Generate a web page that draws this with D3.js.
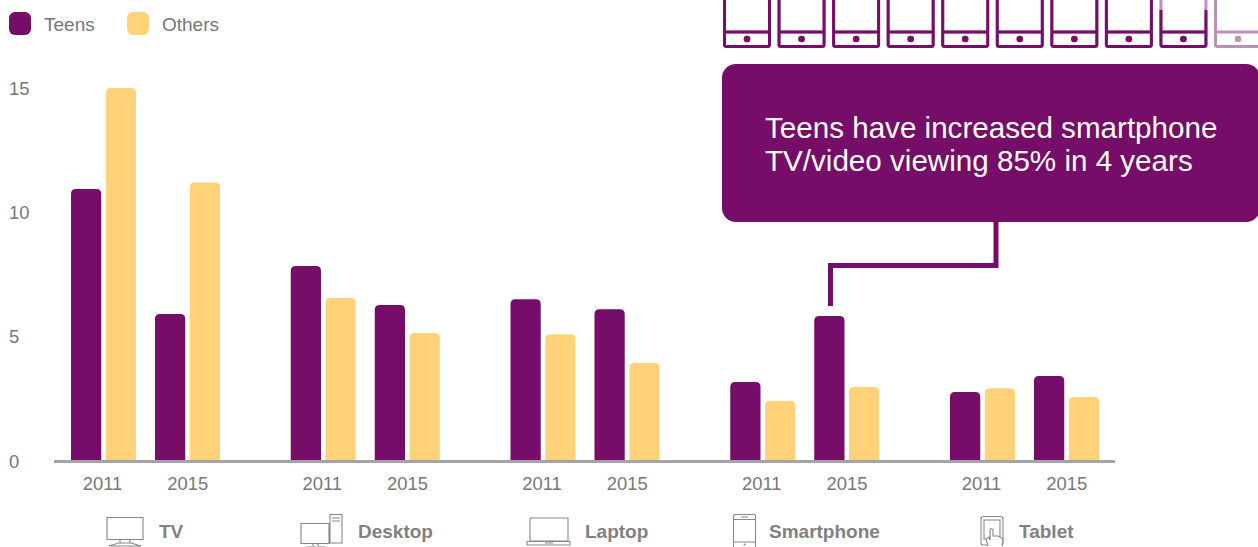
<!DOCTYPE html>
<html><head><meta charset="utf-8">
<script src="https://cdn.jsdelivr.net/npm/d3@7/dist/d3.min.js"></script>
<style>html,body{margin:0;padding:0;background:#fff;overflow:hidden}svg{display:block;font-family:"Liberation Sans",Arial,sans-serif}</style>
</head><body><svg id="c" width="1258" height="547"></svg>
<script>
const categories=["TV","Desktop","Laptop","Smartphone","Tablet"];
const years=["2011","2015"];
const seriesNames=["Teens","Others"];
const teens2011=[10.94,7.84,6.5,3.18,2.77];
const others2011=[15,6.55,5.1,2.41,2.93];
const teens2015=[5.91,6.27,6.1,5.83,3.42];
const others2015=[11.2,5.15,3.94,2.98,2.57];
const yTicks=[0,5,10,15];
const phoneShare=[1,1,1,1,1,1,1,1,0.85,0];
const calloutLines=["Teens have increased smartphone","TV/video viewing 85% in 4 years"];
const purple="#760d68",yellow="#ffd27a",gray="#77777a";
const svg=d3.select("#c");
const y=d3.scaleLinear().domain([0,15]).range([461,88]);
const xCat=d3.scaleBand().domain(categories).range([71,1099]).paddingInner(0.322);
const xYear=d3.scaleBand().domain(years).range([0,xCat.bandwidth()]).paddingInner(0.226);
const xSer=d3.scaleBand().domain(seriesNames).range([0,xYear.bandwidth()]).paddingInner(0.13);
const color=d3.scaleOrdinal().domain(seriesNames).range([purple,yellow]);
const rows=[];
categories.forEach((c,i)=>{
 rows.push({c,yr:"2011",s:"Teens",v:teens2011[i]},{c,yr:"2011",s:"Others",v:others2011[i]},
           {c,yr:"2015",s:"Teens",v:teens2015[i]},{c,yr:"2015",s:"Others",v:others2015[i]});
});
function bar(d){
 const x0=xCat(d.c)+xYear(d.yr)+xSer(d.s),w=xSer.bandwidth(),t=y(d.v),b=y(0),r=5;
 return `M${x0},${b}V${t+r}Q${x0},${t} ${x0+r},${t}H${x0+w-r}Q${x0+w},${t} ${x0+w},${t+r}V${b}Z`;
}
svg.append("g").selectAll("path").data(rows).join("path").attr("d",bar).attr("fill",d=>color(d.s));
svg.append("line").attr("x1",54).attr("x2",1115).attr("y1",y(0)+0.5).attr("y2",y(0)+0.5).attr("stroke","#a3a3a8").attr("stroke-width",3);
svg.append("g").selectAll("text").data(yTicks).join("text").attr("x",9).attr("y",d=>y(d)+6.5+(d===0?0.5:0))
 .attr("font-size",18.4).attr("fill",gray).text(d=>d);
const yrLab=[];categories.forEach(c=>years.forEach(yr=>yrLab.push({c,yr})));
svg.append("g").selectAll("text").data(yrLab).join("text")
 .attr("x",d=>xCat(d.c)+xYear(d.yr)+xYear.bandwidth()/2-(d.yr==="2011"?1:-0.3)).attr("y",490).attr("text-anchor","middle")
 .attr("font-size",18.4).attr("fill",gray).text(d=>d.yr);
const catLabelX=d3.scaleOrdinal().domain(categories).range([159,358,585,769,1019]);
svg.append("g").selectAll("text").data(categories).join("text")
 .attr("x",d=>catLabelX(d)).attr("y",538).attr("font-size",19).attr("font-weight",700).attr("fill",gray).attr("opacity",.92).text(d=>d);
const ic=svg.append("g").attr("fill","none").attr("stroke","#88888b").attr("stroke-width",1.1);
ic.append("path").attr("d","M107,517.5H143V539.5H107ZM120,540V543M130,540V543M109,546L119,543H131L141,546Z");
ic.append("path").attr("d","M301,523.5H329V543.5H301ZM330,514.5H342V543H330ZM332,518H340M332,521H340M313,544V546M318,544V546M306,547H325");
ic.append("path").attr("d","M530,518H568V541H530ZM527,541.5H570V545H527ZM545,543H553");
ic.append("path").attr("d","M733.5,547V516Q733.5,514.5 735,514.5H754Q755.5,514.5 755.5,516V547M733.5,519.5H755.5M733.5,542H755.5M741,517H748");
ic.append("circle").attr("cx",744.5).attr("cy",544.5).attr("r",1).attr("fill","#88888b").attr("stroke","none");
ic.append("path").attr("d","M983,516.5H1001Q1003,516.5 1003,519V543Q1003,545 1001,545H983Q981,545 981,543V519Q981,516.5 983,516.5ZM984,520H1000V539H984Z");
ic.append("path").attr("d","M988,546L986,539L989,537L990,540V530Q991,527 993,530V536L998,536L1003,539L1002,546").attr("fill","#fff");
const leg=svg.append("g").selectAll("g").data(seriesNames).join("g");
leg.append("rect").attr("x",(d,i)=>[9,127][i]).attr("y",12).attr("width",22).attr("height",23).attr("rx",6).attr("fill",d=>color(d));
leg.append("text").attr("x",(d,i)=>[44,162][i]).attr("y",31).attr("font-size",19).attr("fill",gray).text(d=>d);
const xPhone=d3.scaleBand().domain(d3.range(phoneShare.length)).range([723,1262]).paddingInner(0.12);
const yPhone=d3.scaleLinear().domain([0,1]).range([47,3.5]);
const phones=svg.append("g").selectAll("g").data(phoneShare).join("g").attr("transform",(d,i)=>`translate(${xPhone(i)},0)`);
const phone=(sel,w)=>{
 sel.append("path").attr("d",`M1.5,-19V44.5Q1.5,46.5 3.5,46.5H${w-3.5}Q${w-1.5},46.5 ${w-1.5},44.5V-19M1.5,32H${w-1.5}`).attr("fill","none").attr("stroke-width",3);
 sel.append("circle").attr("cx",w/2).attr("cy",39).attr("r",3.3).attr("stroke","none");
};
const w=xPhone.bandwidth();
const defs=svg.append("defs");
phones.each(function(d,i){
 const g=d3.select(this);
 const light=g.append("g").attr("stroke","#bb92b6").attr("fill","#bb92b6");phone(light,w);
 if(d>0){
  const top=d===1?-20:yPhone(d);
  defs.append("clipPath").attr("id","phoneClip"+i).append("rect").attr("x",-5).attr("width",w+10)
   .attr("y",top).attr("height",yPhone(0)-top+5);
  const dark=g.append("g").attr("stroke",purple).attr("fill",purple).attr("clip-path",`url(#phoneClip${i})`);
  phone(dark,w);
 }
});
svg.append("path").attr("d","M996,220V265.5H830.5V306").attr("fill","none").attr("stroke",purple).attr("stroke-width",5);
svg.append("rect").attr("x",722).attr("y",64).attr("width",538).attr("height",158).attr("rx",14).attr("fill",purple);
svg.append("g").selectAll("text").data(calloutLines).join("text").attr("x",765).attr("y",(d,i)=>138+i*33)
 .attr("font-size",29.6).attr("fill","#fff").text(d=>d);
</script></body></html>
